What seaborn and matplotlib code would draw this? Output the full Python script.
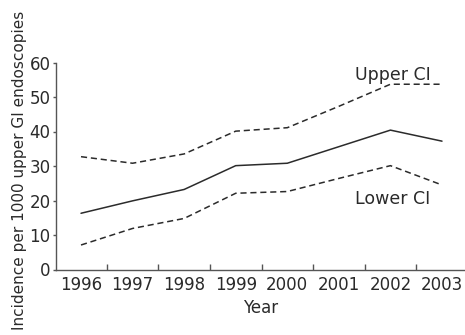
import matplotlib
matplotlib.use("Agg")
import matplotlib.pyplot as plt
import seaborn as sns
import pandas as pd
import numpy as np

years = ["1996", "1997", "1998", "1999", "2000", "2001", "2002", "2003"]
incidence = [16.3, 19.9, 23.2, 30.1, 30.8, 35.6, 40.4, 37.2]
upper_ci = [32.7, 30.8, 33.5, 40.1, 41.1, 47.3, 53.7, 53.7]
lower_ci = [7.1, 11.9, 14.8, 22.1, 22.6, 26.4, 30.1, 24.5]
series_names = ["Incidence", "Upper CI", "Lower CI"]

sns.set_theme(style="white")
plt.rcParams["font.family"] = ["DejaVu Sans"]

rows = []
for name, vals in zip(series_names, [incidence, upper_ci, lower_ci]):
    for i, v in enumerate(vals):
        rows.append({"pos": i, "value": v, "series": name})
df = pd.DataFrame(rows)

fig = plt.figure(figsize=(4.65, 3.35), dpi=100)
ax = fig.add_axes([56 / 465, (335 - 269.5) / 335, (465 - 56) / 465, (269.5 - 62.5) / 335])

line_col = "#2b2b2b"
sns.lineplot(data=df, x="pos", y="value", style="series", units="series",
             estimator=None, ax=ax, color=line_col, linewidth=1.1,
             dashes={"Incidence": "", "Upper CI": (4, 2.5), "Lower CI": (4, 2.5)},
             legend=False)

ax.set_xlim(-0.485, 7.446)
ax.set_ylim(0, 60)
ax.set_yticks(range(0, 61, 10))
ax.set_xticks(range(len(years)))
ax.set_xticklabels(years)
ax.set_xticks(np.arange(0.5, 7, 1.0), minor=True)

for s in ["top", "right"]:
    ax.spines[s].set_visible(False)
for s in ["left", "bottom"]:
    ax.spines[s].set_color("#555555")
    ax.spines[s].set_linewidth(1.0)

txt_col = "#2a2a2a"
ax.tick_params(axis="x", which="major", length=0, pad=5, labelsize=12, labelcolor=txt_col)
ax.tick_params(axis="x", which="minor", direction="in", length=4, width=1.0,
               color="#555555", bottom=True)
ax.tick_params(axis="y", which="major", direction="out", length=2.5, width=1.0,
               color="#555555", pad=1.5, labelsize=12, labelcolor=txt_col, left=True)

ax.set_xlabel("Year", fontsize=12, color=txt_col, labelpad=3)
ax.set_ylabel("Incidence per 1000 upper GI endoscopies", fontsize=11, color=txt_col)
ax.yaxis.set_label_coords(-0.072, 0.478)

ax.text(6.05, 56.5, "Upper CI", fontsize=12.5, color=txt_col, ha="center", va="center")
ax.text(6.05, 20.5, "Lower CI", fontsize=12.5, color=txt_col, ha="center", va="center")

fig.savefig("out.png", dpi=100)
